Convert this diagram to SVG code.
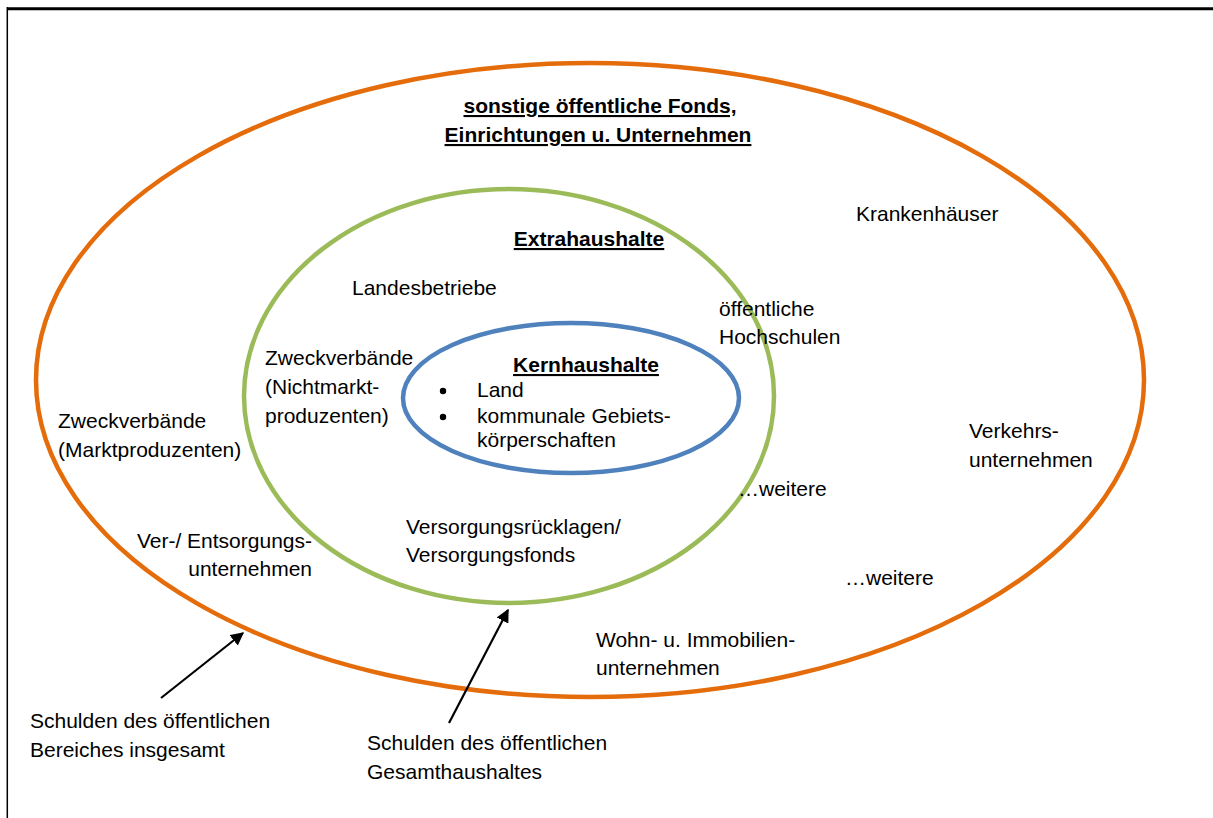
<svg xmlns="http://www.w3.org/2000/svg" width="1213" height="818" viewBox="0 0 1213 818">
<style>
text{font-family:"Liberation Sans",Arial,sans-serif;font-size:21px;fill:#000}
.b{font-weight:bold;text-decoration:underline}
.m{text-anchor:middle}
.r{text-anchor:end}
.ring{fill:none;stroke-width:4.5}
.conn{stroke:#000;stroke-width:2.2;fill:none;marker-end:url(#ah)}
</style>
<defs>
<marker id="ah" viewBox="0 0 10 10" refX="9" refY="5" markerWidth="6" markerHeight="6" orient="auto" markerUnits="strokeWidth">
<path d="M0,0 L10,5 L0,10 z" fill="#000"/>
</marker>
</defs>
<rect width="1213" height="818" fill="#fff"/>
<g id="frame">
<line x1="7" y1="8.7" x2="1213" y2="8.7" stroke="#000" stroke-width="3"/>
<line x1="7.3" y1="7" x2="7.3" y2="818" stroke="#000" stroke-width="1.5"/>
</g>
<g id="outer">
<ellipse class="ring" cx="590" cy="380" rx="554" ry="317" stroke="#E46C0A"/>
<text class="b m" x="600" y="113">sonstige öffentliche Fonds,</text>
<text class="b m" x="598" y="142">Einrichtungen u. Unternehmen</text>
<text x="856" y="221">Krankenhäuser</text>
<text x="58" y="428">Zweckverbände</text>
<text x="58" y="457">(Marktproduzenten)</text>
<text x="969" y="438">Verkehrs-</text>
<text x="969" y="467">unternehmen</text>
<text class="r" x="312" y="548">Ver-/ Entsorgungs-</text>
<text class="r" x="312" y="576">unternehmen</text>
<text x="845" y="585">…weitere</text>
<text x="596" y="647">Wohn- u. Immobilien-</text>
<text x="596" y="675">unternehmen</text>
</g>
<g id="middle">
<ellipse class="ring" cx="509" cy="396" rx="265" ry="207" stroke="#9BBB59"/>
<text class="b m" x="589" y="246">Extrahaushalte</text>
<text x="352" y="295">Landesbetriebe</text>
<text x="719" y="316">öffentliche</text>
<text x="719" y="344">Hochschulen</text>
<text x="265" y="365">Zweckverbände</text>
<text x="265" y="394">(Nichtmarkt-</text>
<text x="265" y="423">produzenten)</text>
<text x="738" y="496">…weitere</text>
<text x="406" y="534">Versorgungsrücklagen/</text>
<text x="406" y="562">Versorgungsfonds</text>
</g>
<g id="inner">
<ellipse class="ring" cx="571" cy="398" rx="168" ry="75" stroke="#4F81BD"/>
<text class="b m" x="586" y="372">Kernhaushalte</text>
<circle cx="443" cy="391" r="3.2" fill="#000"/>
<circle cx="443" cy="417" r="3.2" fill="#000"/>
<text x="477" y="397">Land</text>
<text x="477" y="423">kommunale Gebiets-</text>
<text x="477" y="447">körperschaften</text>
</g>
<g id="labels">
<text x="30" y="728">Schulden des öffentlichen</text>
<text x="30" y="757">Bereiches insgesamt</text>
<text x="367" y="750">Schulden des öffentlichen</text>
<text x="367" y="779">Gesamthaushaltes</text>
</g>
<g id="connectors">
<line class="conn" x1="161" y1="698" x2="243" y2="633"/>
<line class="conn" x1="449" y1="723" x2="508" y2="610"/>
</g>
</svg>
